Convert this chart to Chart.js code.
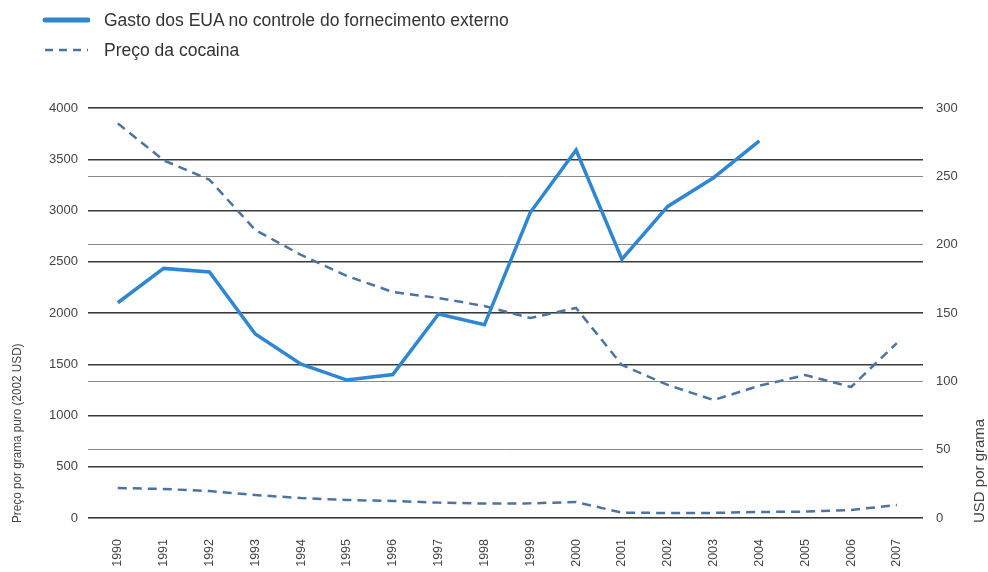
<!DOCTYPE html>
<html>
<head>
<meta charset="utf-8">
<script src="https://cdn.jsdelivr.net/npm/chart.js@4/dist/chart.umd.min.js"></script>
<style>
  html, body { margin: 0; padding: 0; background: #fff; }
  #wrap { position: relative; width: 988px; height: 572px; }
  #legend { position: absolute; left: 42px; top: 5px; font-family: "Liberation Sans", Arial, sans-serif; font-size: 17.5px; color: #333; }
  .item { display: flex; align-items: center; height: 30px; }
  .item svg { margin-right: 14px; }
</style>
</head>
<body>
<div id="wrap">
  <canvas id="chart" width="988" height="572"></canvas>
  <div id="legend">
    <div class="item"><svg width="48" height="10"><line x1="3" y1="5" x2="46" y2="5" stroke="#2f86d1" stroke-width="5" stroke-linecap="round"/></svg>Gasto dos EUA no controle do fornecimento externo</div>
    <div class="item"><svg width="48" height="10"><line x1="3" y1="5" x2="46" y2="5" stroke="#4d73a0" stroke-width="2.5" stroke-dasharray="8,6"/></svg>Preço da cocaina</div>
  </div>
</div>
<script>
// ==================== Data ====================

const years = [1990, 1991, 1992, 1993, 1994, 1995, 1996, 1997, 1998,
               1999, 2000, 2001, 2002, 2003, 2004, 2005, 2006, 2007];

// Gasto dos EUA (left axis), 1990-2004
const spending = [2100, 2435, 2400, 1795, 1500, 1346, 1400, 1990, 1885,
                  2980, 3590, 2525, 3040, 3320, 3680];

// Preço da cocaina, upper series (left axis)
const priceUpper = [3850, 3490, 3300, 2810, 2566, 2361, 2205, 2146, 2068,
                    1951, 2049, 1493, 1298, 1151, 1290, 1395, 1278, 1707];

// Preço da cocaina, lower series (left axis)
const priceLower = [293, 283, 263, 224, 195, 176, 166, 150, 141,
                    143, 156, 52, 49, 50, 59, 62, 78, 127];

const leftTicks = [0, 500, 1000, 1500, 2000, 2500, 3000, 3500, 4000];
const rightTicks = [0, 50, 100, 150, 200, 250, 300];

const leftTitle = 'Preço por grama puro (2002 USD)';
const rightTitle = 'USD por grama';

// ==================== Chart ====================

function points(values) {
    return values.map((v, i) => ({ x: years[i], y: v }));
}

const fontFamily = '"Liberation Sans", Arial, sans-serif';
const tickFont = { family: fontFamily, size: 13 };

// Vertical axis titles, both reading bottom-to-top
const axisTitles = {
    id: 'axisTitles',
    afterDraw(chart) {
        const ctx = chart.ctx;
        ctx.save();
        ctx.fillStyle = '#444';
        ctx.textAlign = 'left';
        ctx.textBaseline = 'middle';

        ctx.save();
        ctx.translate(17, 523);
        ctx.rotate(-Math.PI / 2);
        ctx.scale(0.87, 1);
        ctx.font = '13.5px ' + fontFamily;
        ctx.fillText(leftTitle, 0, 0);
        ctx.restore();

        ctx.save();
        ctx.translate(980, 523);
        ctx.rotate(-Math.PI / 2);
        ctx.font = '15px ' + fontFamily;
        ctx.fillText(rightTitle, 0, 0);
        ctx.restore();

        ctx.restore();
    }
};

new Chart(document.getElementById('chart'), {
    type: 'line',
    data: {
        datasets: [
            {
                data: points(spending),
                borderColor: '#2f86d1',
                borderWidth: 3.5,
                pointRadius: 0,
                tension: 0,
                yAxisID: 'y'
            },
            {
                data: points(priceUpper),
                borderColor: '#4d73a0',
                borderWidth: 2.5,
                borderDash: [9, 6],
                pointRadius: 0,
                tension: 0,
                yAxisID: 'y'
            },
            {
                data: points(priceLower),
                borderColor: '#4d73a0',
                borderWidth: 2.5,
                borderDash: [9, 6],
                pointRadius: 0,
                tension: 0,
                yAxisID: 'y'
            }
        ]
    },
    plugins: [axisTitles],
    options: {
        responsive: false,
        animation: false,
        layout: { padding: { top: 108, left: 0, right: 0, bottom: 0 } },
        plugins: { legend: { display: false }, tooltip: { enabled: false } },
        scales: {
            x: {
                type: 'linear',
                min: 1989.35,
                max: 2007.57,
                grid: { display: false },
                border: { display: false },
                afterBuildTicks: s => { s.ticks = years.map(v => ({ value: v })); },
                afterFit: s => { s.height = 54; },
                ticks: {
                    autoSkip: false,
                    minRotation: 90,
                    maxRotation: 90,
                    padding: 13,
                    color: '#444',
                    font: { family: fontFamily, size: 12.5 },
                    callback: v => String(v)
                }
            },
            y: {
                position: 'left',
                min: 0,
                max: 4000,
                afterBuildTicks: s => { s.ticks = leftTicks.map(v => ({ value: v })); },
                afterFit: s => { s.width = 88; },
                grid: { color: '#3a3a3a', lineWidth: 1.5, drawTicks: false },
                border: { display: false },
                ticks: { padding: 10, color: '#444', font: tickFont, callback: v => String(v) }
            },
            y1: {
                position: 'right',
                min: 0,
                max: 300,
                afterBuildTicks: s => { s.ticks = rightTicks.map(v => ({ value: v })); },
                afterFit: s => { s.width = 65; },
                grid: { color: '#8a8a8a', lineWidth: 1, drawTicks: false },
                border: { display: false },
                ticks: { padding: 13, color: '#444', font: tickFont, callback: v => String(v) }
            }
        }
    }
});
</script>
</body>
</html>
